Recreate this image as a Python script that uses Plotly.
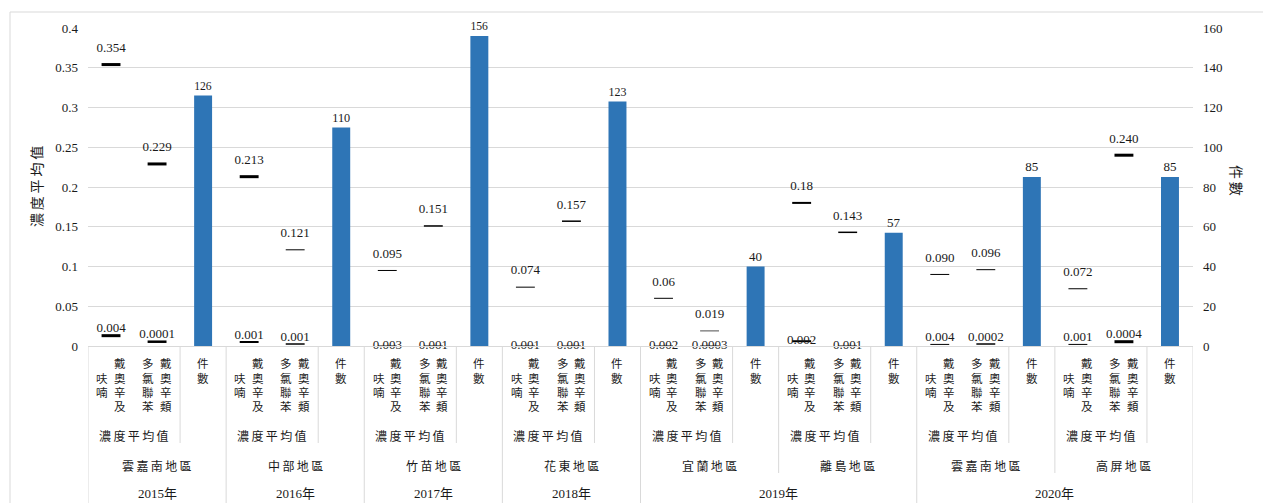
import plotly.graph_objects as go

# ---------------- data ----------------
years = ["2015年", "2016年", "2017年", "2018年", "2019年", "2019年", "2020年", "2020年"]
regions = ["雲嘉南地區", "中部地區", "竹苗地區", "花東地區", "宜蘭地區", "離島地區", "雲嘉南地區", "高屏地區"]
conc_categories = ["戴奧辛及呋喃", "戴奧辛類多氯聯苯"]
count_category = "件數"
conc_group_label = "濃度平均值"

# 戴奧辛及呋喃 (upper / lower marks)
df_high = [0.354, 0.213, 0.095, 0.074, 0.06, 0.18, 0.090, 0.072]
df_high_lbl = ["0.354", "0.213", "0.095", "0.074", "0.06", "0.18", "0.090", "0.072"]
df_low = [0.013, 0.005, 0.0, 0.0, 0.0, 0.006, 0.002, 0.002]
df_low_lbl = ["0.004", "0.001", "0.003", "0.001", "0.002", "0.002", "0.004", "0.001"]

# 戴奧辛類多氯聯苯 (upper / lower marks)
pcb_high = [0.229, 0.121, 0.151, 0.157, 0.019, 0.143, 0.096, 0.240]
pcb_high_lbl = ["0.229", "0.121", "0.151", "0.157", "0.019", "0.143", "0.096", "0.240"]
pcb_low = [0.0054, 0.0025, 0.0, 0.0, 0.0, 0.0, 0.0025, 0.0054]
pcb_low_lbl = ["0.0001", "0.001", "0.001", "0.001", "0.0003", "0.001", "0.0002", "0.0004"]

# 件數
counts = [126, 110, 156, 123, 40, 57, 85, 85]

left_ticks = [0, 0.05, 0.1, 0.15, 0.2, 0.25, 0.3, 0.35, 0.4]
left_tick_text = ["0", "0.05", "0.1", "0.15", "0.2", "0.25", "0.3", "0.35", "0.4"]
right_ticks = [0, 20, 40, 60, 80, 100, 120, 140, 160]
right_tick_text = ["0", "20", "40", "60", "80", "100", "120", "140", "160"]

# ---------------- layout helpers ----------------
W, H = 1263, 503
ML, MR, MT, MB = 88, 70, 28, 157
PH = H - MT - MB
PW = W - ML - MR


def py(p):  # pixel y -> paper y
    return (H - MB - p) / PH


def px(p):  # pixel x -> paper x
    return (p - ML) / PW


SERIF = "Liberation Serif, Times New Roman, Noto Sans CJK TC"
CJK = "Noto Sans CJK TC"
TXT = "#1a1a1a"
GRID = "#d9d9d9"

n = len(regions)
x_df = [3 * g for g in range(n)]
x_pcb = [3 * g + 1 for g in range(n)]
x_cnt = [3 * g + 2 for g in range(n)]

fig = go.Figure()

fig.add_trace(go.Bar(
    x=x_cnt, y=counts, yaxis="y2", width=0.39,
    marker=dict(color="#2E75B6", line=dict(width=0)),
    text=[str(c) for c in counts], textposition="outside",
    textfont=dict(family=SERIF, size=13, color=TXT), cliponaxis=False,
))


def marks(x, y, lbl, widths, label_on_marker=True, tpos="top center"):
    fig.add_trace(go.Scatter(
        x=x, y=y, mode="markers+text" if label_on_marker else "markers",
        text=lbl if label_on_marker else None, textposition=tpos,
        marker=dict(symbol="line-ew", size=13.5, color="black",
                    line=dict(color="black", width=widths)),
        textfont=dict(family=SERIF, size=13, color=TXT), cliponaxis=False,
    ))
    if not label_on_marker:
        fig.add_trace(go.Scatter(
            x=x, y=y, mode="text", text=lbl, textposition=tpos,
            textfont=dict(family=SERIF, size=13, color=TXT), cliponaxis=False,
        ))


low_pos = ["top center", "top center", "middle center", "middle center",
           "middle center", "middle center", "top center", "top center"]

marks(x_df, df_high, df_high_lbl, [3, 3, 1, 1, 1, 2, 1, 1])
marks(x_pcb, pcb_high, pcb_high_lbl, [3, 1, 1.5, 1.5, 0.7, 1.5, 1, 3])
marks(x_df, df_low, df_low_lbl, [3, 2, 1, 1, 1, 2, 1, 1], False, low_pos)
marks(x_pcb, pcb_low, pcb_low_lbl, [2.5, 1.5, 1, 1, 1, 1, 1.5, 3], False, low_pos)

# ---------------- hierarchical category axis ----------------
ann = []
shapes = []
TS = "\u2009"


def label(x, y, text, family=CJK, size=12, xref="x", angle=0):
    ann.append(dict(x=x, y=y, xref=xref, yref="paper", xanchor="center", yanchor="middle",
                    text=text, showarrow=False, textangle=angle,
                    font=dict(family=family, size=size, color=TXT)))


def vertical_block(xc, text, top_px=356, pitch=14.4, col_gap=17.5, size=11.5):
    cols = [text[i:i + 4] for i in range(0, len(text), 4)]
    maxlen = max(len(c) for c in cols)
    nc = len(cols)
    for k, c in enumerate(cols):
        off = (maxlen - len(c)) * pitch / 2
        for i, ch in enumerate(c):
            ann.append(dict(
                x=xc, y=py(top_px + off + pitch * (i + 0.5)), xref="x", yref="paper",
                xanchor="center", yanchor="middle", text=ch, showarrow=False,
                xshift=((nc - 1) / 2 - k) * col_gap,
                font=dict(family=CJK, size=size, color=TXT),
            ))


for g in range(n):
    vertical_block(x_df[g], conc_categories[0])
    vertical_block(x_pcb[g], conc_categories[1])
    vertical_block(x_cnt[g], count_category)
    label((x_df[g] + x_pcb[g]) / 2, py(435), TS.join(conc_group_label))
    label(x_pcb[g], py(465), TS.join(regions[g]))
    # separator between concentration group and count
    shapes.append(dict(type="line", xref="x", yref="paper", x0=3 * g + 1.5, x1=3 * g + 1.5,
                       y0=0, y1=py(443), line=dict(color=GRID, width=1)))
    # group boundary
    if g == 0 or years[g] != years[g - 1]:
        y_end = py(H + 5)
    else:
        y_end = py(473)
    shapes.append(dict(type="line", xref="x", yref="paper", x0=3 * g - 0.5, x1=3 * g - 0.5,
                       y0=0, y1=y_end, line=dict(color=GRID, width=1)))

shapes.append(dict(type="line", xref="x", yref="paper", x0=3 * n - 0.5, x1=3 * n - 0.5,
                   y0=0, y1=py(H + 5), line=dict(color=GRID, width=1)))

# year labels spanning groups
start = 0
for g in range(1, n + 1):
    if g == n or years[g] != years[start]:
        label((3 * start - 0.5 + 3 * g - 0.5) / 2, py(494), years[start], family=SERIF, size=13)
        start = g

# axis titles
label(px(36), py(187), TS.join("濃度平均值"), size=14, xref="paper", angle=-90)
label(px(1237), py(180), TS.join("件數"), size=14, xref="paper", angle=90)

# outer chart border
shapes.append(dict(type="rect", xref="paper", yref="paper", x0=px(10), x1=px(W + 10),
                   y0=py(H + 10), y1=py(12), line=dict(color=GRID, width=1)))

fig.update_layout(
    width=W, height=H,
    margin=dict(l=ML, r=MR, t=MT, b=MB, autoexpand=False),
    paper_bgcolor="white", plot_bgcolor="white",
    showlegend=False,
    annotations=ann, shapes=shapes,
    xaxis=dict(range=[-0.5, 3 * n - 0.5], showticklabels=False, showgrid=False,
               zeroline=False, showline=True, linecolor=GRID, ticks=""),
    yaxis=dict(range=[0, 0.4], tickmode="array", tickvals=left_ticks, ticktext=left_tick_text,
               showgrid=True, gridcolor=GRID, zeroline=False, showline=False,
               ticklabelstandoff=9, tickfont=dict(family=SERIF, size=13, color=TXT)),
    yaxis2=dict(range=[0, 160], overlaying="y", side="right", tickmode="array",
                tickvals=right_ticks, ticktext=right_tick_text, showgrid=False,
                zeroline=False, showline=False, ticklabelstandoff=9,
                tickfont=dict(family=SERIF, size=13, color=TXT)),
)

fig.write_html("out.html", config={"displayModeBar": False})

# remove the default page margin so the figure sits at the window origin
with open("out.html", encoding="utf-8") as f:
    html = f.read()
html = html.replace("<body>", '<body style="margin:0;overflow:hidden">', 1)
with open("out.html", "w", encoding="utf-8") as f:
    f.write(html)
